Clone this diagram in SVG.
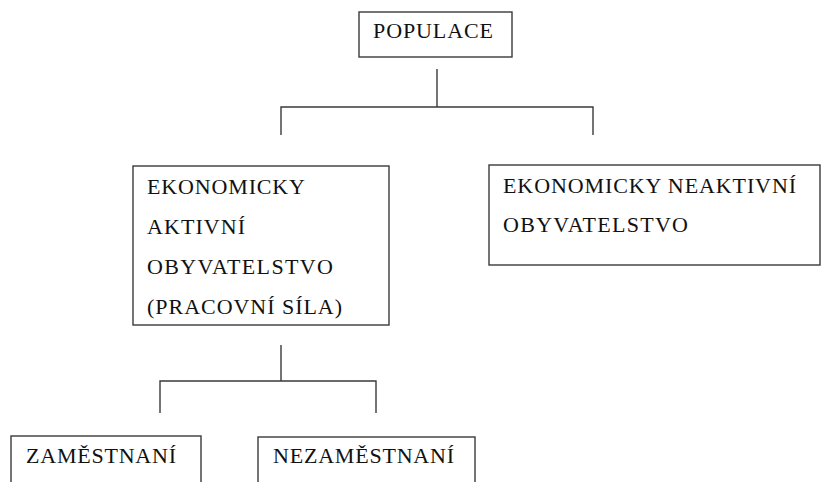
<svg xmlns="http://www.w3.org/2000/svg" width="821" height="482" viewBox="0 0 821 482">
<style>
.box{fill:#fff;stroke:#3a3a3a;stroke-width:1.4}
.ln{fill:none;stroke:#3a3a3a;stroke-width:1.4}
text{font-family:"Liberation Serif","Times New Roman",serif;font-size:22px;fill:#111}
</style>
<rect width="821" height="482" fill="#fff"/>
<g id="populace">
<rect class="box" x="359" y="12" width="153" height="45"/>
<text x="373" y="38" textLength="120" lengthAdjust="spacing">POPULACE</text>
</g>
<g id="connectors">
<path class="ln" d="M437 69V107M281 135V107H593V135"/>
<path class="ln" d="M281 345V381M160 413V381H376V413"/>
</g>
<g id="aktivni">
<rect class="box" x="133" y="166" width="256" height="159"/>
<text x="147" y="194" textLength="158" lengthAdjust="spacing">EKONOMICKY</text>
<text x="147" y="234" textLength="98" lengthAdjust="spacing">AKTIVNÍ</text>
<text x="147" y="274" textLength="186" lengthAdjust="spacing">OBYVATELSTVO</text>
<text x="147" y="314" textLength="195" lengthAdjust="spacing">(PRACOVNÍ SÍLA)</text>
</g>
<g id="neaktivni">
<rect class="box" x="489" y="165" width="331" height="100"/>
<text x="503" y="193" textLength="293" lengthAdjust="spacing">EKONOMICKY NEAKTIVNÍ</text>
<text x="503" y="232" textLength="185" lengthAdjust="spacing">OBYVATELSTVO</text>
</g>
<g id="zamestnani">
<rect class="box" x="11" y="436" width="190" height="60"/>
<text x="26" y="463" textLength="150" lengthAdjust="spacing">ZAMĚSTNANÍ</text>
</g>
<g id="nezamestnani">
<rect class="box" x="258" y="437" width="217" height="60"/>
<text x="273" y="463" textLength="181" lengthAdjust="spacing">NEZAMĚSTNANÍ</text>
</g>
</svg>
